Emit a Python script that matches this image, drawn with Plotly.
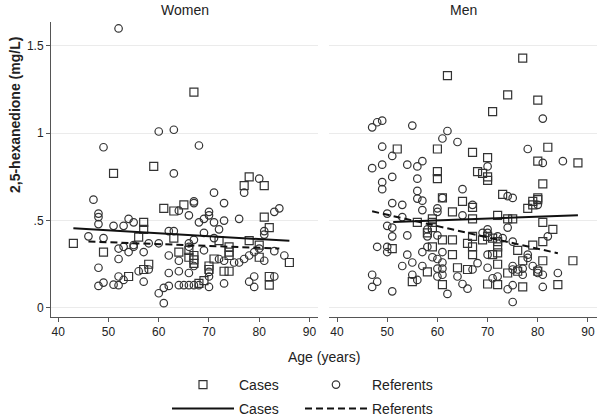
import plotly.graph_objects as go

# ---------------- data ----------------
women_case_age = [43,49,51,54,56,57,57,57,58,59,61,63,63,64,65,66,66,67,67,67,67,68,69,70,70,71,72,73,74,74,74,74,77,78,78,80,80,81,81,82,82,82,86]
women_case_val = [0.37,0.32,0.77,0.18,0.405,0.49,0.45,0.22,0.25,0.81,0.57,0.555,0.40,0.32,0.59,0.33,0.29,1.235,0.30,0.275,0.255,0.14,0.156,0.24,0.22,0.28,0.385,0.21,0.21,0.35,0.32,0.30,0.70,0.75,0.385,0.29,0.36,0.70,0.52,0.46,0.18,0.13,0.26]

women_ref_age = [46,47,48,48,48,48,48,49,49,49,
                 51,51,52,52,52,52,52,53,53,53,
                 54,54,55,55,55,56,57,57,58,58,
                 60,60,60,61,61,62,62,62,62,63,
                 63,63,64,64,64,64,65,66,66,66,
                 66,66,67,67,67,67,67,68,68,68,
                 69,69,69,70,70,70,70,70,71,71,
                 71,72,72,73,73,73,73,75,76,76,
                 77,77,78,78,79,79,79,80,80,81,
                 81,81,83,83,83,84,85]
women_ref_val = [0.41,0.62,0.54,0.52,0.48,0.23,0.126,0.92,0.40,0.145,
                 0.47,0.133,1.60,0.34,0.28,0.18,0.13,0.47,0.35,0.16,
                 0.51,0.32,0.49,0.35,0.36,0.21,0.32,0.15,0.37,0.22,
                 1.01,0.37,0.084,0.115,0.027,0.44,0.30,0.20,0.126,1.02,
                 0.77,0.44,0.557,0.27,0.21,0.13,0.13,0.53,0.37,0.35,
                 0.20,0.13,0.61,0.60,0.39,0.24,0.13,0.93,0.49,0.13,
                 0.51,0.43,0.33,0.55,0.53,0.206,0.18,0.12,0.66,0.49,
                 0.40,0.45,0.28,0.60,0.50,0.27,0.14,0.26,0.51,0.26,
                 0.66,0.28,0.30,0.15,0.32,0.18,0.12,0.74,0.34,0.44,
                 0.42,0.27,0.55,0.325,0.18,0.57,0.30]

men_case_age = [51,52,55,56,58,58,59,59,59,59,
                60,60,60,61,61,61,62,63,63,63,
                64,65,66,66,67,67,67,67,67,67,
                68,69,69,70,70,70,70,70,71,71,
                71,72,72,72,72,72,72,73,74,74,
                74,75,76,76,77,77,77,78,79,79,
                79,80,80,80,80,80,81,81,81,81,
                82,83,84,87,88]
men_case_val = [0.34,0.91,0.15,0.49,0.43,0.206,0.51,0.49,0.46,0.35,
                0.91,0.78,0.74,0.63,0.39,0.133,1.33,0.55,0.39,0.305,
                0.23,0.61,0.37,0.22,0.89,0.576,0.51,0.41,0.35,0.305,
                0.78,0.77,0.39,0.86,0.75,0.73,0.41,0.137,1.124,0.40,
                0.305,0.53,0.38,0.35,0.315,0.25,0.133,0.65,1.22,0.51,
                0.20,0.51,0.33,0.21,1.43,0.27,0.12,0.57,0.61,0.59,
                0.36,1.19,0.84,0.63,0.62,0.21,0.71,0.49,0.38,0.27,
                0.92,0.45,0.133,0.27,0.83]

men_ref_age = [47,47,47,47,48,48,48,49,49,49,
               49,49,50,50,50,50,51,51,51,51,
               51,51,53,53,53,54,54,54,55,55,
               55,56,56,56,56,56,57,57,57,57,
               57,58,58,58,59,60,60,60,60,60,
               60,61,61,61,61,61,61,62,62,64,
               64,65,65,65,66,67,67,68,69,70,
               70,70,70,70,71,72,72,73,74,74,
               74,75,75,75,75,75,75,76,77,77,
               78,78,78,79,80,80,80,81,81,81,
               81,82,84,85]
men_ref_val = [1.034,0.80,0.19,0.12,1.063,0.35,0.15,1.072,0.923,0.82,
               0.72,0.68,0.54,0.47,0.35,0.32,0.87,0.75,0.60,0.46,
               0.41,0.095,0.59,0.52,0.24,0.82,0.415,0.305,1.044,0.26,
               0.19,0.81,0.74,0.67,0.626,0.16,0.84,0.614,0.56,0.32,
               0.24,0.45,0.41,0.35,0.29,0.57,0.55,0.415,0.28,0.225,
               0.18,0.97,0.63,0.32,0.26,0.225,0.19,1.013,0.08,0.95,
               0.18,0.68,0.53,0.137,0.11,0.59,0.22,0.256,0.43,0.81,
               0.45,0.43,0.305,0.23,0.17,0.41,0.18,0.40,0.64,0.46,
               0.107,0.63,0.38,0.24,0.22,0.13,0.034,0.22,0.225,0.19,
               0.91,0.305,0.286,0.24,0.59,0.22,0.20,1.084,0.83,0.19,
               0.12,0.41,0.20,0.84]

# fitted regression lines (end points)
women_case_fit_age = [43, 86]
women_case_fit_val = [0.456, 0.384]
women_ref_fit_age = [46, 84]
women_ref_fit_val = [0.38, 0.34]
men_case_fit_age = [51.2, 88]
men_case_fit_val = [0.492, 0.53]
men_ref_fit_age = [47, 84]
men_ref_fit_val = [0.553, 0.313]

y_tickvals = [0, 0.5, 1, 1.5]
y_ticktext = ["0", ".5", "1", "1.5"]
x_tickvals = [40, 50, 60, 70, 80, 90]

# ---------------- figure ----------------
FONT = "Arial, 'Liberation Sans', sans-serif"
INK = "#333333"
sq = dict(symbol="square-open", size=8, color=INK, line=dict(width=1.2, color=INK))
ci = dict(symbol="circle-open", size=7.5, color=INK, line=dict(width=1.2, color=INK))

fig = go.Figure()
fig.add_trace(go.Scatter(x=women_case_age, y=women_case_val, mode="markers", marker=sq,
                         name="Cases", legend="legend", xaxis="x", yaxis="y"))
fig.add_trace(go.Scatter(x=women_ref_age, y=women_ref_val, mode="markers", marker=ci,
                         name="Referents", legend="legend", xaxis="x", yaxis="y"))
fig.add_trace(go.Scatter(x=men_case_age, y=men_case_val, mode="markers", marker=sq,
                         showlegend=False, xaxis="x2", yaxis="y2"))
fig.add_trace(go.Scatter(x=men_ref_age, y=men_ref_val, mode="markers", marker=ci,
                         showlegend=False, xaxis="x2", yaxis="y2"))

solid = dict(color="#111111", width=2)
dashed = dict(color="#111111", width=2, dash="7px,4px")
fig.add_trace(go.Scatter(x=women_case_fit_age, y=women_case_fit_val, mode="lines", line=solid,
                         name="Cases", legend="legend2", xaxis="x", yaxis="y"))
fig.add_trace(go.Scatter(x=women_ref_fit_age, y=women_ref_fit_val, mode="lines", line=dashed,
                         name="Referents", legend="legend2", xaxis="x", yaxis="y"))
fig.add_trace(go.Scatter(x=men_case_fit_age, y=men_case_fit_val, mode="lines", line=solid,
                         showlegend=False, xaxis="x2", yaxis="y2"))
fig.add_trace(go.Scatter(x=men_ref_fit_age, y=men_ref_fit_val, mode="lines", line=dashed,
                         showlegend=False, xaxis="x2", yaxis="y2"))
# invisible spacer entries so the fixed-width legends do not clip "Referents"
for lg in ("legend", "legend2"):
    fig.add_trace(go.Scatter(x=[None], y=[None], mode="markers",
                             marker=dict(color="rgba(0,0,0,0)", size=1, line=dict(width=0, color="rgba(0,0,0,0)")),
                             name=" ", legend=lg, hoverinfo="skip", xaxis="x", yaxis="y"))

W, H = 600, 417
L, R, T, B = 51, 3, 22, 100
PW, PH = W - L - R, H - T - B

def px_x(p):
    return (p - L) / PW

def px_y(p):
    return (H - B - p) / PH

xcommon = dict(showline=True, linecolor="#555555", linewidth=1, ticks="outside", ticklen=4,
               tickcolor="#555555", tickvals=x_tickvals, showgrid=False, zeroline=False,
               tickfont=dict(size=12, color="#222222", family=FONT))
ycommon = dict(range=[-0.052, 1.637], tickvals=y_tickvals, ticktext=y_ticktext, showgrid=True,
               gridcolor="#ebebeb", gridwidth=1, zeroline=False,
               tickfont=dict(size=12, color="#222222", family=FONT))

legcommon = dict(orientation="h", xanchor="left", yanchor="middle", itemwidth=62,
                 entrywidth=56, bgcolor="rgba(0,0,0,0)", font=dict(size=14, color="#222222", family=FONT),
                 x=px_x(167), itemclick=False)

fig.update_layout(
    width=W, height=H,
    margin=dict(l=L, r=R, t=T, b=B, autoexpand=False),
    paper_bgcolor="white", plot_bgcolor="white",
    font=dict(family=FONT, color="#222222"),
    xaxis=dict(domain=[0, px_x(318)], range=[38.55, 91.7], anchor="y", **xcommon),
    xaxis2=dict(domain=[px_x(329), 1], range=[38.4, 91.8], anchor="y2", **xcommon),
    yaxis=dict(domain=[0, 1], anchor="x", showline=True, linecolor="#555555", linewidth=1,
               ticks="outside", ticklen=4, tickcolor="#555555", **ycommon),
    yaxis2=dict(domain=[0, 1], anchor="x2", showline=False, showticklabels=False, ticks="", **ycommon),
    legend=dict(y=px_y(385), **legcommon),
    legend2=dict(y=px_y(409), **legcommon),
    annotations=[
        dict(text="Women", x=(px_x(51) + px_x(318)) / 2, y=px_y(10), xref="paper", yref="paper",
             showarrow=False, xanchor="center", yanchor="middle", font=dict(size=14, family=FONT, color="#222222")),
        dict(text="Men", x=(px_x(329) + px_x(597)) / 2, y=px_y(10), xref="paper", yref="paper",
             showarrow=False, xanchor="center", yanchor="middle", font=dict(size=14, family=FONT, color="#222222")),
        dict(text="Age (years)", x=px_x(324), y=px_y(357), xref="paper", yref="paper",
             showarrow=False, xanchor="center", yanchor="middle", font=dict(size=14, family=FONT, color="#222222")),
        dict(text="<b>2,5-hexanedione (mg/L)</b>", x=px_x(15), y=px_y(115), xref="paper", yref="paper",
             showarrow=False, textangle=-90, xanchor="center", yanchor="middle",
             font=dict(size=14, family=FONT, color="#222222")),
    ],
    showlegend=True,
)

fig.write_html("out.html", config={"displayModeBar": False},
               post_script="document.body.style.margin='0';document.body.style.overflow='hidden';")
